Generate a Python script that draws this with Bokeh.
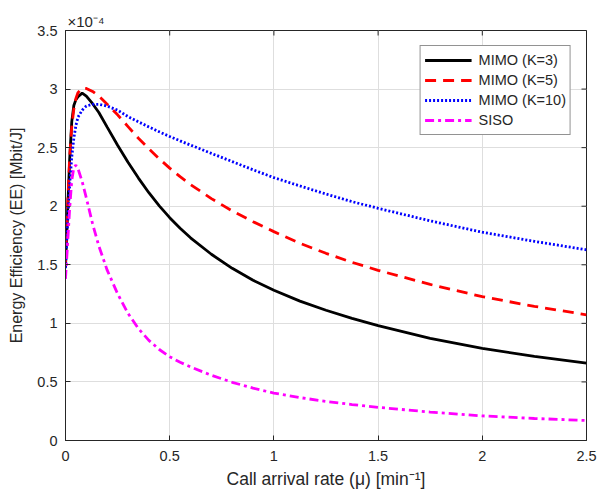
import math
from bokeh.plotting import figure
from bokeh.models import (ColumnDataSource, FixedTicker, Legend, LegendItem,
                          Range1d, Title)
from bokeh.embed import file_html
from bokeh.resources import INLINE

# ---------------- data (EE in units of 1e-4 Mbit/J) ----------------
rate = [0.0, 0.01, 0.02, 0.03, 0.04, 0.05, 0.06, 0.08, 0.10, 0.13, 0.16, 0.20,
        0.25, 0.30, 0.35, 0.40, 0.45, 0.50, 0.55, 0.60, 0.70, 0.80, 0.90, 1.00,
        1.125, 1.25, 1.375, 1.50, 1.75, 2.00, 2.25, 2.50]
ee_k3 = [1.48, 1.95, 2.40, 2.72, 2.86, 2.91, 2.935, 2.965, 2.94, 2.875, 2.80, 2.675,
         2.52, 2.375, 2.24, 2.115, 2.003, 1.902, 1.812, 1.73, 1.59, 1.47, 1.368, 1.282,
         1.19, 1.112, 1.042, 0.98, 0.872, 0.787, 0.718, 0.66]
ee_k5 = [1.52, 2.00, 2.42, 2.68, 2.83, 2.92, 2.97, 3.01, 3.005, 2.98, 2.94, 2.87,
         2.78, 2.68, 2.58, 2.49, 2.405, 2.325, 2.252, 2.185, 2.065, 1.96, 1.868, 1.783,
         1.683, 1.598, 1.521, 1.453, 1.332, 1.228, 1.145, 1.073]
ee_k10 = [1.47, 1.85, 2.18, 2.42, 2.58, 2.69, 2.76, 2.82, 2.855, 2.87, 2.87, 2.855,
          2.82, 2.765, 2.72, 2.677, 2.635, 2.595, 2.558, 2.522, 2.451, 2.381, 2.311, 2.244,
          2.173, 2.104, 2.039, 1.982, 1.875, 1.778, 1.70, 1.628]
ee_siso = [1.38, 1.68, 1.98, 2.22, 2.33, 2.35, 2.32, 2.21, 2.07, 1.85, 1.66, 1.454,
           1.253, 1.085, 0.955, 0.855, 0.777, 0.715, 0.668, 0.628, 0.557, 0.497, 0.447, 0.405,
           0.366, 0.334, 0.307, 0.283, 0.243, 0.21, 0.188, 0.171]

series_names = ["MIMO (K=3)", "MIMO (K=5)", "MIMO (K=10)", "SISO"]
x_ticks = [0, 0.5, 1, 1.5, 2, 2.5]
x_tick_labels = ["0", "0.5", "1", "1.5", "2", "2.5"]
y_ticks = [0, 0.5, 1, 1.5, 2, 2.5, 3, 3.5]
y_tick_labels = ["0", "0.5", "1", "1.5", "2", "2.5", "3", "3.5"]
x_label = "Call arrival rate (\u03bc) [min\u207b\u00b9]"
y_label = "Energy Efficiency (EE) [Mbit/J]"
y_exponent = "\u00d710\u207b\u2074"

FONT = "Liberation Sans"
TXT = "#262626"

p = figure(width=597, height=497, output_backend="svg", toolbar_location=None,
           x_range=Range1d(0, 2.5), y_range=Range1d(0, 3.5),
           min_border_left=65, min_border_right=11, min_border_top=30,
           min_border_bottom=57)
p.background_fill_color = "white"
p.border_fill_color = "white"
p.outline_line_color = TXT
p.outline_line_width = 1

title = Title(text=y_exponent, align="left", offset=2, standoff=2,
              text_font=FONT, text_font_size="15px", text_font_style="normal",
              text_color=TXT)
p.add_layout(title, "above")

src = ColumnDataSource(dict(x=rate, k3=ee_k3, k5=ee_k5, k10=ee_k10, siso=ee_siso))

r1 = p.line("x", "k3", source=src, line_color="black", line_width=2.8)
r2 = p.line("x", "k5", source=src, line_color="#ff0000", line_width=2.8,
            line_dash="11 7")
r3 = p.line("x", "k10", source=src, line_color="#0000ff", line_width=2.8,
            line_dash="2 2")
r4 = p.line("x", "siso", source=src, line_color="#ff00ff", line_width=2.8,
            line_dash="9 4 3 4")

for ax in (p.xaxis[0], p.yaxis[0]):
    ax.axis_line_color = TXT
    ax.major_tick_line_color = TXT
    ax.major_tick_in = 5
    ax.major_tick_out = 0
    ax.minor_tick_line_color = None
    ax.major_label_text_font = FONT
    ax.major_label_text_font_size = "14.5px"
    ax.major_label_text_color = TXT
    ax.axis_label_text_font = FONT
    ax.axis_label_text_font_style = "normal"
    ax.axis_label_text_color = TXT
p.xaxis.axis_label_text_font_size = "17.5px"
p.yaxis.axis_label_text_font_size = "16px"

p.xaxis.ticker = FixedTicker(ticks=x_ticks)
p.xaxis.major_label_overrides = dict(zip(x_ticks, x_tick_labels))
p.yaxis.ticker = FixedTicker(ticks=y_ticks)
p.yaxis.major_label_overrides = dict(zip(y_ticks, y_tick_labels))
p.xaxis.axis_label = x_label
p.yaxis.axis_label = y_label
p.xaxis.major_label_standoff = 10
p.xaxis.axis_label_standoff = 5
p.yaxis.major_label_standoff = 8
p.yaxis.axis_label_standoff = 9

# inward ticks on the right and top edges of the box
p.ray(x=[x_ticks[-1]] * len(y_ticks), y=y_ticks, length=5, length_units="screen",
      angle=math.pi, line_color=TXT, line_width=1)
p.ray(x=x_ticks, y=[y_ticks[-1]] * len(x_ticks), length=5, length_units="screen",
      angle=-math.pi / 2, line_color=TXT, line_width=1)

p.xgrid.ticker = FixedTicker(ticks=x_ticks)
p.ygrid.ticker = FixedTicker(ticks=y_ticks)
p.grid.grid_line_color = "#dedede"
p.grid.grid_line_width = 1

legend = Legend(items=[LegendItem(label=n, renderers=[r])
                       for n, r in zip(series_names, [r1, r2, r3, r4])],
                location="top_right")
legend.margin = 15
legend.padding = 4
legend.spacing = 0
legend.glyph_width = 47
legend.glyph_height = 20
legend.label_height = 20
legend.label_standoff = 7
legend.label_text_font = FONT
legend.label_text_font_size = "14.5px"
legend.label_text_color = TXT
legend.border_line_color = TXT
legend.border_line_width = 1
legend.background_fill_color = "white"
legend.background_fill_alpha = 1
p.add_layout(legend, "center")

open("out.html", "w").write(file_html(p, INLINE))
